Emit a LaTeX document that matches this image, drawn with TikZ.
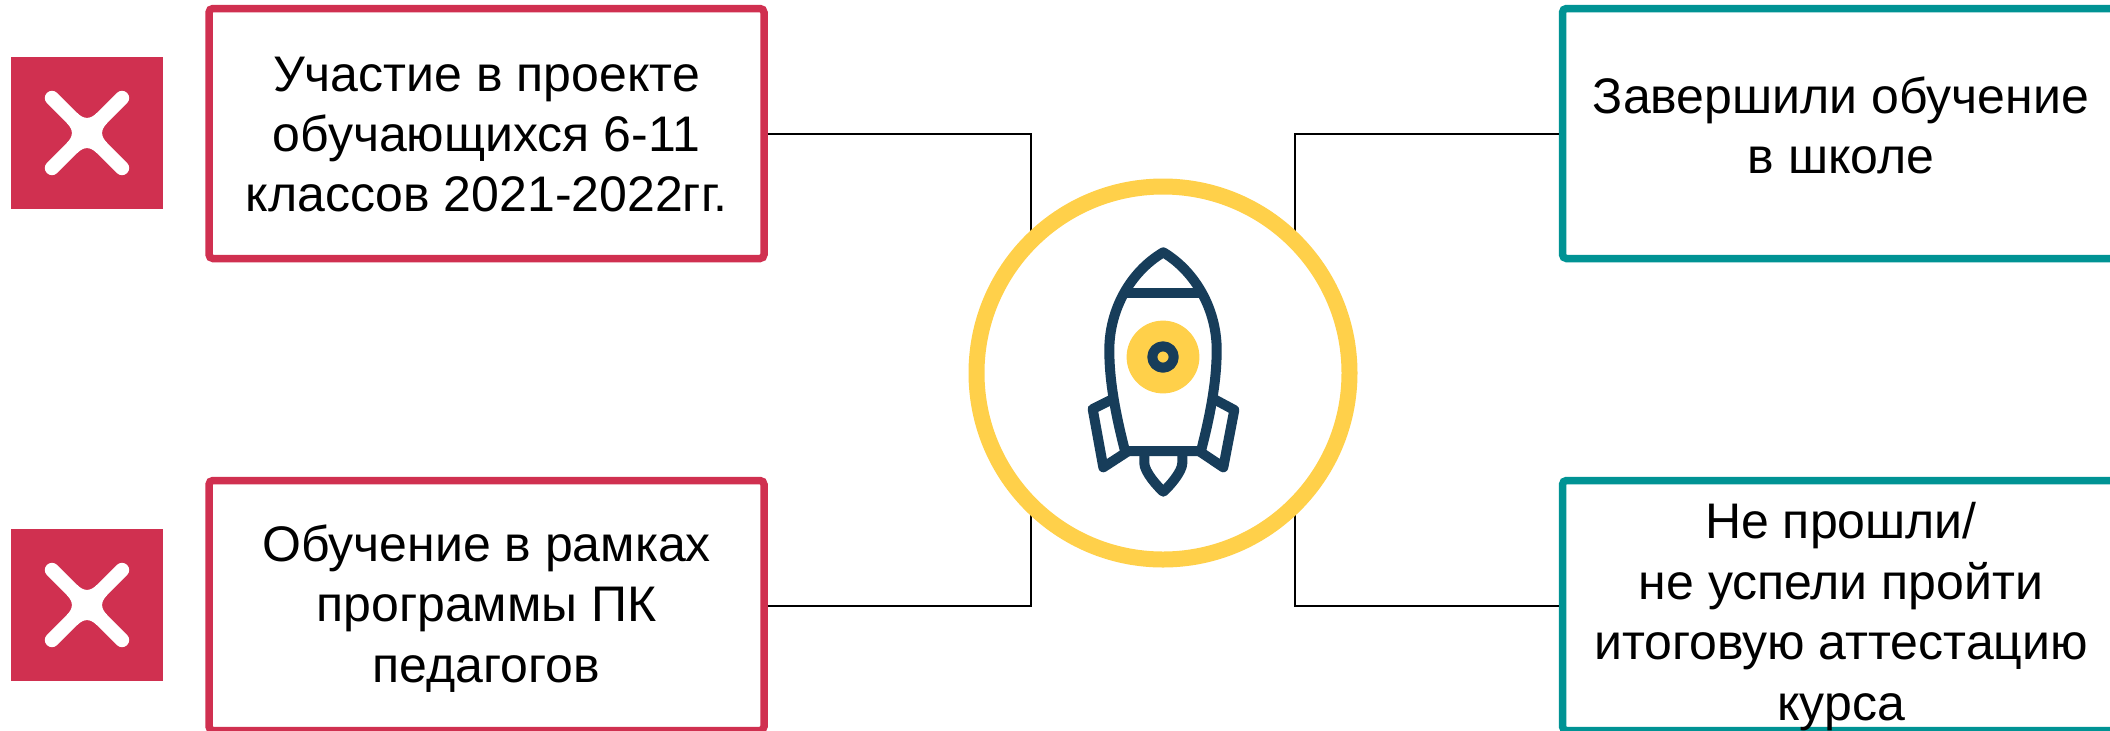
\documentclass[tikz,border=0pt]{standalone}
\usepackage{fontspec}
\setmainfont{Liberation Sans}
\usetikzlibrary{positioning}
\definecolor{crimson}{HTML}{D03050}
\definecolor{seateal}{HTML}{009394}
\definecolor{navy}{HTML}{173D5A}
\definecolor{sun}{HTML}{FFD04A}
\newcommand{\cardtext}[2]{\raisebox{#1}[0pt][0pt]{\parbox{272pt}{\centering #2}}}

\begin{document}
\begin{tikzpicture}[
  x=0.5pt, y=-0.5pt,
  font=\fontsize{25}{30.2}\selectfont,
  card/.style={draw=#1, fill=white, line width=3.75pt, rounded corners=2pt, minimum width=277.5pt, minimum height=125pt, align=center, inner sep=0pt},
  xbox/.style={fill=crimson, minimum size=76pt, inner sep=0pt},
  xarm/.style={draw=white, line width=7.2pt, line cap=round},
  link/.style={draw=black, line width=1pt},
  hub/.style={circle, draw=sun, fill=white, line width=8pt, minimum size=186.5pt, inner sep=0pt},
  hull/.style={draw=navy, line width=5pt, line join=round, line cap=round},
]
\clip (0,0) rectangle (2110,730);
\fill[white] (0,0) rectangle (2110,730);

%% ============ Left column ============
\node[card=crimson] (part) at (486.5,133.5) {\cardtext{-6.7pt}{Участие в проекте\\обучающихся 6-11\\классов 2021-2022гг.}};
\node[card=crimson] (train) at (486.5,605.5) {\cardtext{-7.7pt}{Обучение в рамках\\программы ПК\\педагогов}};
\node[xbox] (xa) at (87,133) {};
\node[xbox] (xb) at (87,605) {};

%% ============ Right column ============
\node[card=seateal, minimum width=278.5pt] (done) at (1841,133.5) {\cardtext{-2.2pt}{Завершили обучение\\в школе}};
\node[card=seateal, minimum width=278.5pt] (fail) at (1841,605.5) {\cardtext{-11.7pt}{Не прошли/\\не успели пройти\\итоговую аттестацию\\курса}};

%% ============ crosses ============
\foreach \nm in {xa,xb} {
  \draw[xarm] ([shift={(-35,-35)}]\nm.center) -- ([shift={(35,35)}]\nm.center);
  \draw[xarm] ([shift={(-35,35)}]\nm.center) -- ([shift={(35,-35)}]\nm.center);
  % webs in the four notches
  \begin{scope}[shift={(\nm.center)}]
    \fill[white] (-10,-20.2) .. controls (-3,-13.4) and (3,-13.4) .. (10,-20.2)
      -- (20.2,-10) .. controls (13.4,-3) and (13.4,3) .. (20.2,10)
      -- (10,20.2) .. controls (3,13.4) and (-3,13.4) .. (-10,20.2)
      -- (-20.2,10) .. controls (-13.4,3) and (-13.4,-3) .. (-20.2,-10) -- cycle;
  \end{scope}
}

%% ============ flows ============
\coordinate (hubl) at (1031,373);
\coordinate (hubr) at (1295,373);
\draw[link] (part.east) -| (hubl);
\draw[link] (train.east) -| (hubl);
\draw[link] (done.west) -| (hubr);
\draw[link] (fail.west) -| (hubr);

%% ============ hub and rocket ============
\node[hub] (ring) at (1163,373) {};
\fill[sun] (1163,357) circle (18.2pt);
% body
\draw[hull] (1163.3,252.3) .. controls (1130,272) and (1109.3,310) .. (1109.3,350)
  .. controls (1109.3,380) and (1115,412) .. (1125,451) -- (1201,451)
  .. controls (1211,412) and (1216.7,380) .. (1216.7,350)
  .. controls (1216.7,310) and (1196,272) .. cycle;
\draw[hull, line cap=butt] (1126,293) -- (1200,293);
% fins
\draw[hull] (1110.7,400) -- (1092.7,409) -- (1103.3,467.3) -- (1127.3,451.7);
\draw[hull] (1215.7,400) -- (1234.3,410) -- (1223.3,467.3) -- (1200,451.7);
% flame
\draw[hull] (1144.3,455.7) -- (1144.3,463) .. controls (1144.3,472) and (1158,487) .. (1163.3,491.7)
  .. controls (1168.6,487) and (1182.3,472) .. (1182.3,463) -- (1182.3,455.7);
% porthole
\draw[hull, fill=sun] (1163,357) circle (5.35pt);

\end{tikzpicture}
\end{document}
